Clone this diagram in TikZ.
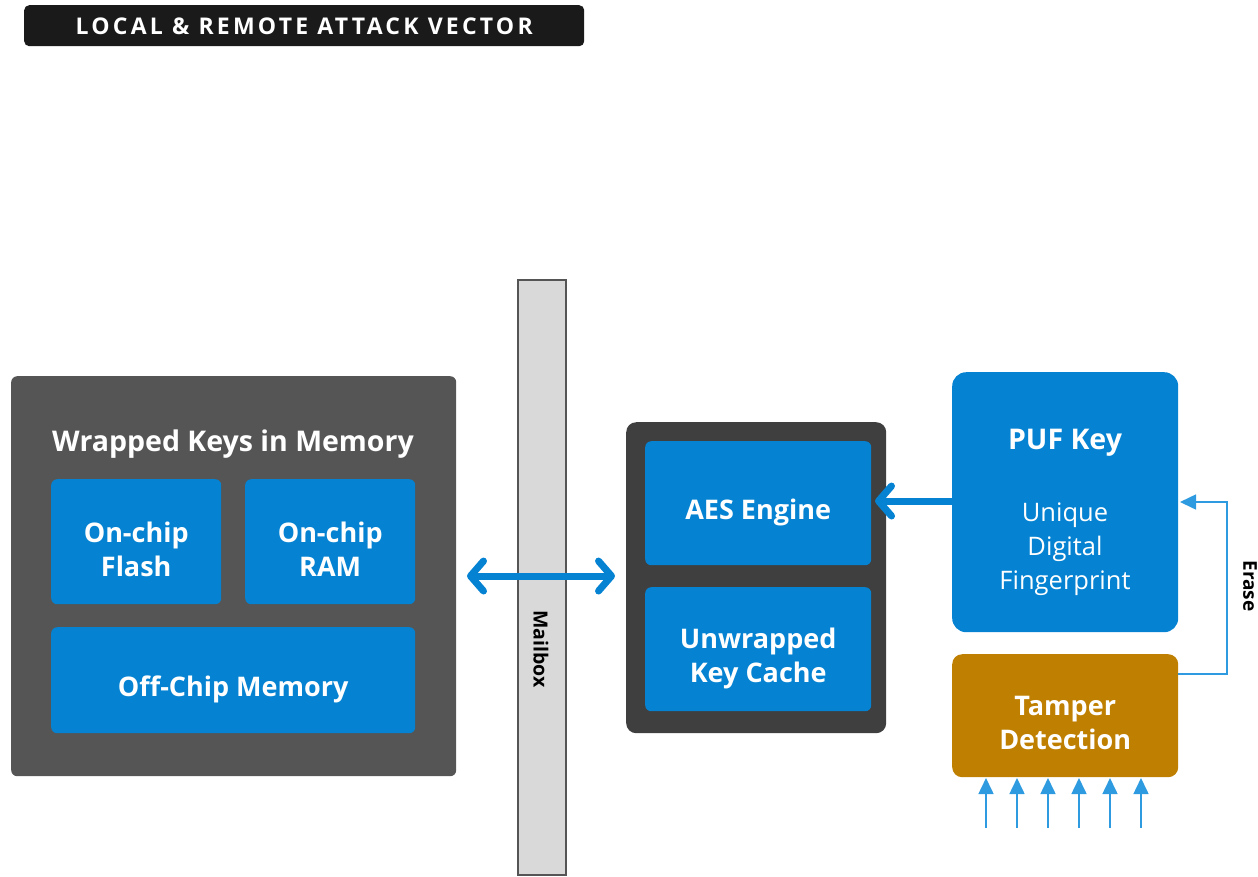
\documentclass[tikz,border=0pt]{standalone}
\usepackage{fontspec}
\setmainfont{Open Sans}
\usetikzlibrary{arrows.meta}
\definecolor{keyblue}{HTML}{0583D2}
\definecolor{wireblue}{HTML}{2E9BE0}
\definecolor{memgray}{HTML}{555555}
\definecolor{coregray}{HTML}{3F3F3F}
\definecolor{barfill}{HTML}{D9D9D9}
\definecolor{tamper}{HTML}{BF7F00}
\definecolor{titlebg}{HTML}{1A1A1A}
\tikzset{
  panel/.style={anchor=north west, inner sep=0pt, rounded corners=6pt},
  keybox/.style={panel, fill=keyblue},
  boxtext/.style={text=white, inner sep=0pt, font=\fontsize{27}{34}\selectfont\bfseries, align=center},
  heading/.style={text=white, font=\fontsize{28.5}{34}\selectfont\bfseries},
  bigarrow/.style={keyblue, line width=7pt, line cap=round,
    {Straight Barb[length=13pt, width=30pt, line cap=round, line join=round]}-{Straight Barb[length=13pt, width=30pt, line cap=round, line join=round]}},
  pufarrow/.style={keyblue, line width=7pt,
    -{Straight Barb[length=13pt, width=30pt, line cap=round, line join=round]}},
  wire/.style={wireblue, line width=1.6pt, -{Triangle[length=16pt, width=15pt]}},
}
\begin{document}
\begin{tikzpicture}[x=1pt, y=-1pt]
\useasboundingbox (0,0) rectangle (1258,876);

% title banner
\node[panel, fill=titlebg, rounded corners=5pt, minimum width=560pt, minimum height=41pt] (title) at (24,5) {};
\node[text=white, font=\fontsize{23}{26}\selectfont\bfseries\addfontfeature{LetterSpace=14}] (titletext) at ([yshift=-1pt]title.center) {LOCAL \& REMOTE ATTACK VECTOR};

% mailbox bar
\node[anchor=north west, inner sep=0pt, fill=barfill, draw=memgray, line width=2pt, minimum width=48pt, minimum height=595pt] (mailbox) at (517,279) {};
\node[rotate=-90, font=\fontsize{19.5}{22}\selectfont\bfseries] (mailtext) at (541,649) {Mailbox};

% wrapped keys in memory
\node[panel, fill=memgray, minimum width=445pt, minimum height=400pt] (mem) at (11,376) {};
\node[heading] (memtitle) at (233,444) {Wrapped Keys in Memory};
\node[keybox, minimum width=170pt, minimum height=125pt] (flash) at (51,479) {};
\node[boxtext] (flasht) at ([yshift=-8pt]flash.center) {On-chip\\Flash};
\node[keybox, minimum width=170pt, minimum height=125pt] (ram) at (245,479) {};
\node[boxtext] (ramt) at ([yshift=-8pt]ram.center) {On-chip\\RAM};
\node[keybox, minimum width=364pt, minimum height=106pt] (offchip) at (51,627) {};
\node[boxtext] (offchipt) at ([yshift=-9pt]offchip.center) {Off-Chip Memory};

% crypto core
\node[panel, fill=coregray, rounded corners=10pt, minimum width=260pt, minimum height=311pt] (core) at (626,422) {};
\node[keybox, minimum width=226pt, minimum height=124pt] (aes) at (645,441) {};
\node[boxtext] (aest) at ([yshift=-9pt]aes.center) {AES Engine};
\node[keybox, minimum width=226pt, minimum height=124pt] (cache) at (645,587) {};
\node[boxtext] (cachet) at ([yshift=-9pt]cache.center) {Unwrapped\\Key Cache};

% PUF and tamper detection
\node[panel, fill=keyblue, rounded corners=14pt, minimum width=226pt, minimum height=260pt] (puf) at (952,372) {};
\node[heading] (puftitle) at (1065,443) {PUF Key};
\node[text=white, align=center, font=\fontsize{25.5}{34}\selectfont] (pufsub) at (1065,549) {Unique\\Digital\\Fingerprint};
\node[panel, fill=tamper, rounded corners=10pt, minimum width=226pt, minimum height=123pt] (tamp) at (952,654) {};
\node[boxtext] (tampt) at ([yshift=-7pt]tamp.center) {Tamper\\Detection};

% connectors
\coordinate (lefttip) at (467,576);
\coordinate (righttip) at (615,576);
\draw[bigarrow] (lefttip) -- (righttip);
\coordinate (pufout) at (952,501);
\coordinate (aesin) at (875,501);
\draw[pufarrow] (pufout) -- (aesin);

\coordinate (erasestart) at (1178,674);
\coordinate (eraseend) at (1180,502);
\draw[wire] (erasestart) -- (1227,674) -- (1227,502) -- (eraseend);
\node[rotate=-90, anchor=south, inner sep=0pt, font=\fontsize{19}{22}\selectfont\bfseries] (erase) at (1243,586) {Erase};

\foreach \i/\x in {1/986,2/1017,3/1048,4/1079,5/1110,6/1141} {
  \coordinate (sensor\i) at (\x,828);
  \coordinate (tin\i) at (\x,778);
  \draw[wire] (sensor\i) -- (tin\i);
}
\end{tikzpicture}
\end{document}
